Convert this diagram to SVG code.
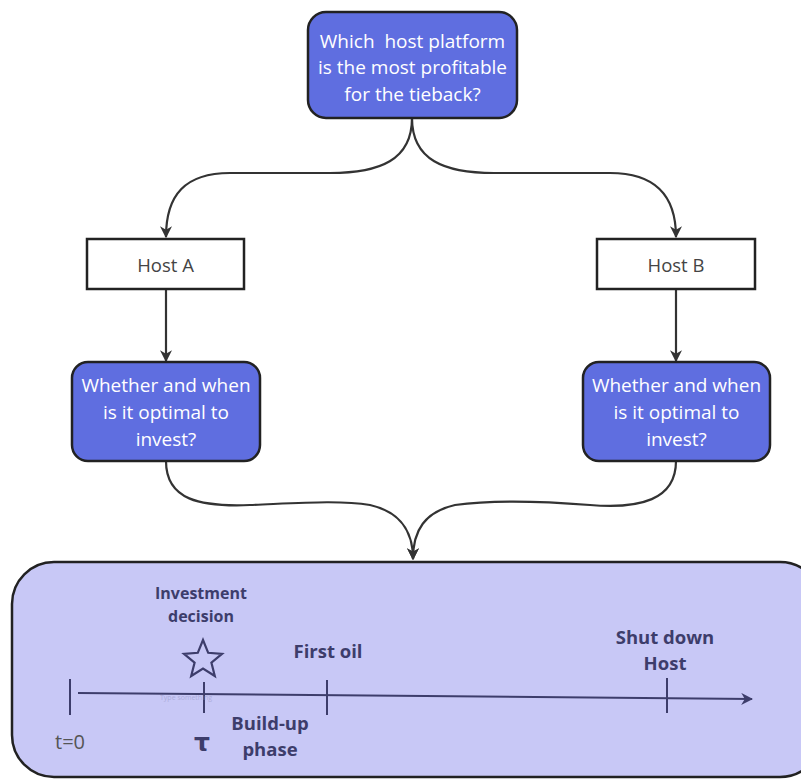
<svg xmlns="http://www.w3.org/2000/svg" width="801" height="780" viewBox="0 0 801 780">
<defs>
<style>
.q{fill:#5f6ee0;stroke:#222;stroke-width:2.5}
.h{fill:#fff;stroke:#222;stroke-width:2.5}
.qt{font-family:"Open Sans","Noto Sans",sans-serif;font-size:19px;fill:#fff;text-anchor:middle}
.ht{font-family:"Open Sans","Noto Sans",sans-serif;font-size:18.5px;fill:#444;text-anchor:middle}
.con{fill:none;stroke:#333;stroke-width:2.2}
.tl{fill:none;stroke:#3d3d6b;stroke-width:2}
.lb{font-family:"Open Sans","Noto Sans",sans-serif;font-weight:bold;font-size:18.5px;fill:#3d3d6b;text-anchor:middle}
.lb.sm{font-size:16px}
</style>
<marker id="ah" viewBox="0 0 10 10" refX="9" refY="5" markerWidth="12" markerHeight="12" orient="auto" markerUnits="userSpaceOnUse">
<path d="M0,0 L10,5 L0,10 L3,5 Z" fill="#333"/>
</marker>
<marker id="ah2" viewBox="0 0 10 10" refX="9" refY="5" markerWidth="12" markerHeight="12" orient="auto" markerUnits="userSpaceOnUse">
<path d="M0,0 L10,5 L0,10 L3,5 Z" fill="#3d3d6b"/>
</marker>
</defs>
<rect width="801" height="780" fill="#fff"/>
<g id="connectors">
<path class="con" marker-end="url(#ah)" d="M412,118 C412,160 380,173 330,173 L230,173 C185,173 166,195 166,237"/>
<path class="con" marker-end="url(#ah)" d="M412,118 C412,160 444,173 494,173 L610,173 C655,173 676,195 676,237"/>
<path class="con" marker-end="url(#ah)" d="M166,290 L166,361"/>
<path class="con" marker-end="url(#ah)" d="M676,290 L676,361"/>
<path class="con" marker-end="url(#ah)" d="M166,461 C166,500 200,507 250,505 C300,503 340,500 370,505 C400,512 413,530 413,559"/>
<path class="con" marker-end="url(#ah)" d="M676,461 C676,500 640,509 590,505 C540,501 490,500 455,505 C425,512 413,530 413,559"/>
</g>
<g id="q-top">
<rect class="q" x="308" y="12" width="209" height="106" rx="18"/>
<text class="qt" x="412.5" y="48" xml:space="preserve">Which  host platform</text>
<text class="qt" x="412.5" y="74">is the most profitable</text>
<text class="qt" x="412.5" y="101">for the tieback?</text>
</g>
<g id="host-a">
<rect class="h" x="87" y="239" width="157" height="50"/>
<text class="ht" x="165.5" y="272">Host A</text>
</g>
<g id="host-b">
<rect class="h" x="597" y="239" width="158" height="50"/>
<text class="ht" x="676" y="272">Host B</text>
</g>
<g id="q-a">
<rect class="q" x="72" y="362" width="188" height="99" rx="16"/>
<text class="qt" x="166" y="392">Whether and when</text>
<text class="qt" x="166" y="419">is it optimal to</text>
<text class="qt" x="166" y="446">invest?</text>
</g>
<g id="q-b">
<rect class="q" x="583" y="362" width="187" height="99" rx="16"/>
<text class="qt" x="676.5" y="392">Whether and when</text>
<text class="qt" x="676.5" y="419">is it optimal to</text>
<text class="qt" x="676.5" y="446">invest?</text>
</g>
<g id="timeline">
<rect x="12" y="562" width="810" height="215" rx="42" fill="#c8c8f6" stroke="#222" stroke-width="2.5"/>
<path class="tl" marker-end="url(#ah2)" d="M78,693 L752,699"/>
<path class="tl" d="M70,679 V715 M204,682 V713 M327,680 V715 M667,678 V713"/>
<polygon points="203,640 208.2,652.8 222,653.8 211.4,662.6 214.8,676 203,668.6 191.2,676 194.6,662.6 184,653.8 197.8,652.8" fill="none" stroke="#3d3d6b" stroke-width="2.2" stroke-linejoin="miter"/>
<text font-family="'Open Sans',sans-serif" font-size="7px" fill="#9a9ac8" opacity="0.6" x="160" y="700">Type something</text>
<text class="lb sm" x="201" y="599">Investment</text>
<text class="lb sm" x="201" y="622">decision</text>
<text class="lb" x="328" y="658">First oil</text>
<text class="lb" x="665" y="644">Shut down</text>
<text class="lb" x="665" y="670">Host</text>
<text class="lb" x="270" y="730">Build-up</text>
<text class="lb" x="270" y="756">phase</text>
<text x="202" y="751" font-family="'DejaVu Sans',sans-serif" font-weight="bold" font-size="25px" fill="#3d3d6b" text-anchor="middle">τ</text>
<text x="70" y="749" font-family="'Open Sans',sans-serif" font-size="20px" fill="#555" text-anchor="middle">t=0</text>
</g>
</svg>
